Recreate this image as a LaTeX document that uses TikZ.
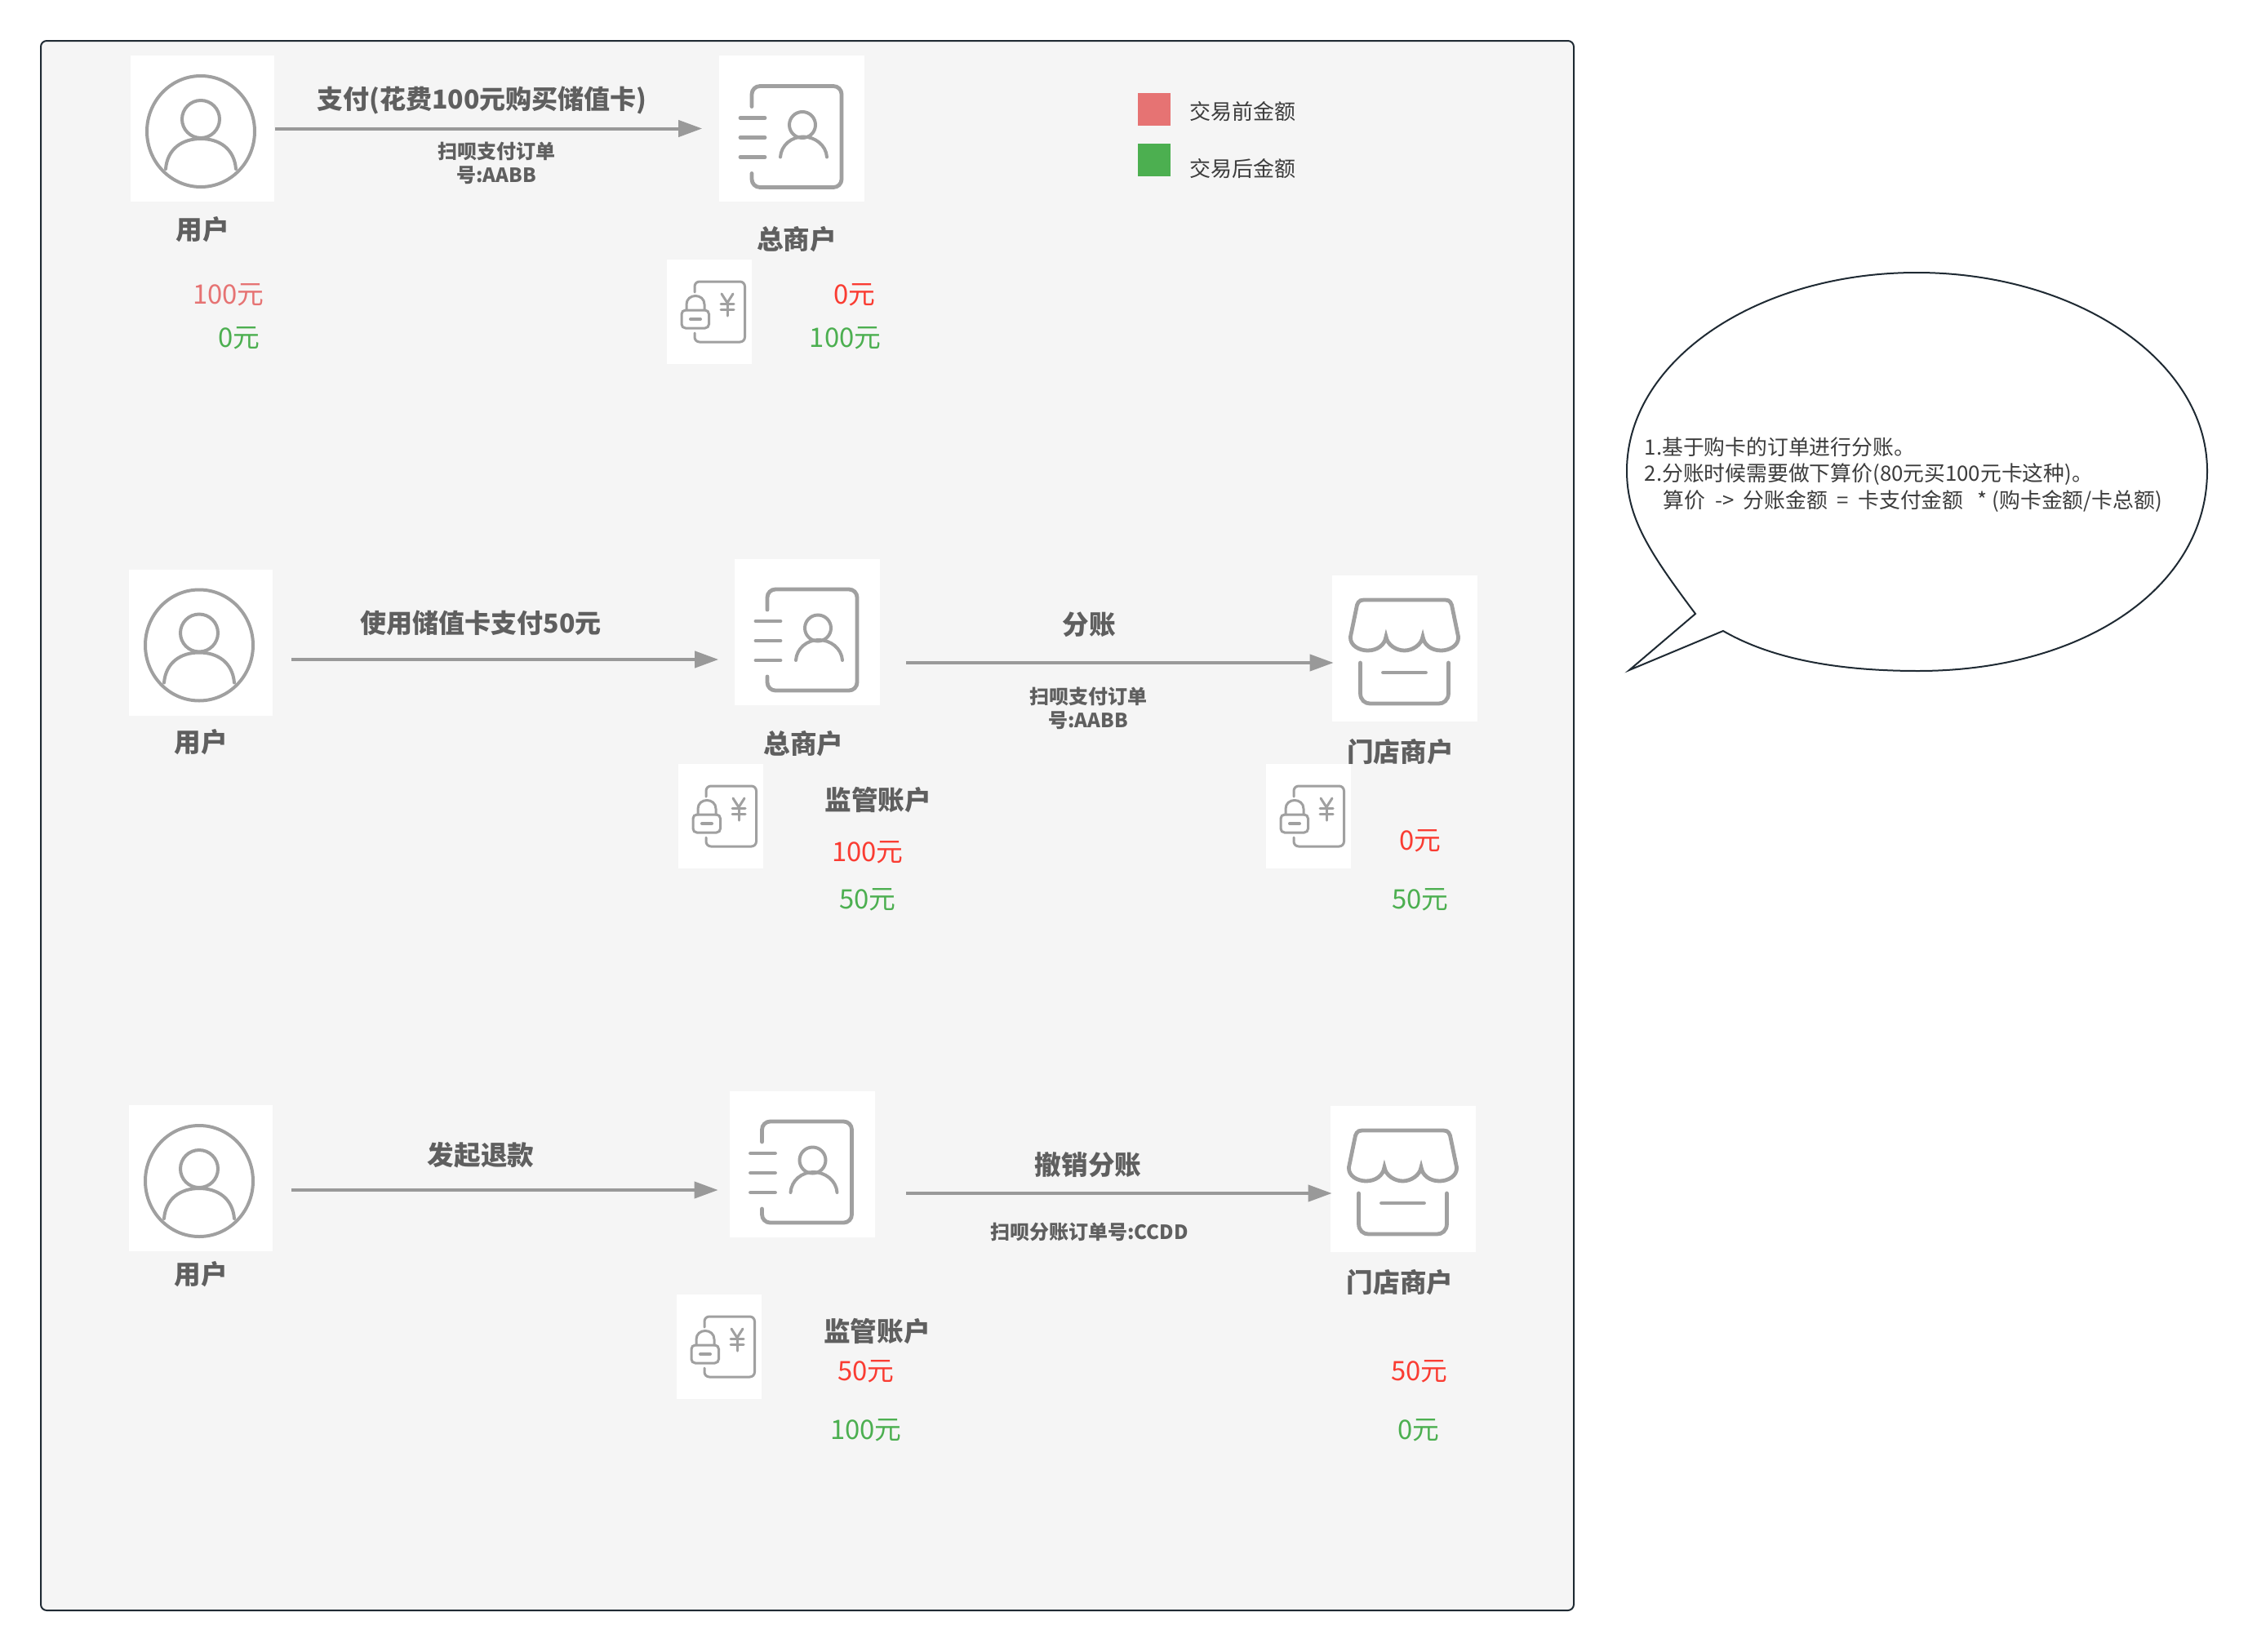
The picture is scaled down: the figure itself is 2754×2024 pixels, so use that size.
\documentclass[tikz,border=0pt]{standalone}
\usepackage{fontspec}
\setmainfont{Noto Sans CJK SC}
\usetikzlibrary{arrows.meta, positioning}

\definecolor{panelbg}{HTML}{F5F5F5}
\definecolor{paneledge}{HTML}{1F2A33}
\definecolor{icongray}{HTML}{A0A0A0}
\definecolor{arrgray}{HTML}{999999}
\definecolor{labelgray}{HTML}{5F5F5F}
\definecolor{notegray}{HTML}{3C3C3C}
\definecolor{beforepink}{HTML}{E67373}
\definecolor{beforered}{HTML}{FA3C32}
\definecolor{aftergreen}{HTML}{4CAF50}

\tikzset{
  iconline/.style={draw=icongray, line width=1.2pt, line cap=round},
  thinicon/.style={draw=icongray, line width=0.75pt, line cap=round},
  usericon/.pic={
    \draw[iconline, line width=1pt] (-2,3.5) circle [x radius=66, y radius=68];
    \draw[iconline, line width=1pt] (-2,-11.5) circle [radius=23];
    \draw[iconline, line width=1pt] (-45,49.5) .. controls (-43,25) and (-25,12.5) .. (-2,12.5)
      .. controls (21,12.5) and (39,25) .. (41,49.5);
  },
  bossicon/.pic={
    \draw[iconline, rounded corners=2.5pt] (-49,-27) |- (61,-52) |- (-49,72) -- (-49,55);
    \draw[iconline] (-63,-13) -- (-33,-13);
    \draw[iconline] (-63,11) -- (-33,11);
    \draw[iconline] (-63,35) -- (-33,35);
    \draw[iconline, line width=1pt] (13,-4.5) circle [radius=16];
    \draw[iconline, line width=1pt] (-14,35) .. controls (-13,20) and (0,10) .. (14,10)
      .. controls (28,10) and (42,20) .. (43,35);
  },
  lockicon/.pic={
    \draw[thinicon, rounded corners=1.5pt] (-18,-24) |- (43.5,-37) |- (-18,37) -- (-18,26);
    \draw[thinicon, rounded corners=1.2pt] (-34,-2) rectangle (-0.5,20);
    \draw[thinicon] (-28,-2) -- (-28,-9) .. controls (-28,-23) and (-6,-23) .. (-6,-9) -- (-6,-2);
    \draw[thinicon, line width=1pt] (-23,9) -- (-11,9);
    \draw[thinicon] (15,-22) -- (22,-11) -- (29,-22);
    \draw[thinicon] (22,-11) -- (22,5);
    \draw[thinicon] (14,-10) -- (30,-10);
    \draw[thinicon] (14,-3) -- (30,-3);
  },
  shopicon/.pic={
    \draw[iconline] (-50,-59) -- (50,-59) .. controls (56,-59) and (58,-55) .. (59,-48) -- (66,-14)
      .. controls (67,-3) and (55,3) .. (45,3) .. controls (33,3) and (24,-4) .. (22.5,-14)
      .. controls (21,-4) and (10,3) .. (0,3) .. controls (-10,3) and (-21,-4) .. (-22.5,-14)
      .. controls (-24,-4) and (-33,3) .. (-45,3) .. controls (-55,3) and (-67,-3) .. (-66,-14)
      -- (-59,-48) .. controls (-58,-55) and (-56,-59) .. (-50,-59) -- cycle;
    \draw[iconline] (-54,18) -- (-54,55) .. controls (-54,64) and (-48,68) .. (-42,68) -- (42,68)
      .. controls (48,68) and (54,64) .. (54,55) -- (54,18);
    \draw[iconline] (-26,30) -- (26,30);
  }
}

\begin{document}
\begin{tikzpicture}[
  x=0.25pt, y=-0.25pt,
  panel/.style={fill=panelbg, draw=paneledge, line width=0.5pt, rounded corners=1.8pt},
  imgbox/.style={fill=white, inner sep=0pt, minimum width=44.5pt, minimum height=44.75pt},
  userbox/.style={imgbox, minimum width=44pt},
  lockbox/.style={fill=white, inner sep=0pt, minimum width=25.9pt, minimum height=32pt},
  title/.style={font=\fontsize{8.15}{8.15}\selectfont\bfseries, text=labelgray, inner sep=0pt, text height=7pt, text depth=1pt},
  paytitle/.style={title, font=\fontsize{8}{8}\selectfont\bfseries},
  small/.style={font=\fontsize{6}{7.25}\selectfont\bfseries, text=labelgray, inner sep=0pt, align=center},
  amount/.style={font=\fontsize{8.2}{8.2}\selectfont, inner sep=0pt, text height=7.2pt, text depth=1pt},
  legendtext/.style={font=\fontsize{6.5}{6.5}\selectfont, text=notegray, inner sep=0pt, text height=5.7pt, text depth=0.8pt},
  swatch/.style={inner sep=0pt, minimum size=10pt},
  arr/.style={-{Triangle[length=7.25pt, width=5pt]}, line width=1pt, draw=arrgray}
  ]
  \useasboundingbox (0,0) rectangle (2754,2024);
  \draw[panel] (50,50) rectangle (1928,1973);

  \node[userbox] (user1) at (248,157.5) {};
  \node[imgbox] (boss1) at (970,157.5) {};
  \node[lockbox] (lock1) at (869,382) {};
  \pic at (user1) {usericon};
  \pic at (boss1) {bossicon};
  \pic at (lock1) {lockicon};
  \node[title, below=4.25pt of user1] (userlabel1) {用户};
  \node[title, below=7.25pt of boss1, xshift=1.5pt] (bosslabel1) {总商户};
  \node[paytitle] (paylabel1) at (590.5,121) {支付(花费100元购买储值卡)};
  \node[small] (order1) at (608,199.5) {扫呗支付订单\\号:AABB};
  \node[amount, text=beforepink] (userbefore1) at (280,360) {100元};
  \node[amount, text=aftergreen] (userafter1) at (292.6,413) {0元};
  \node[amount, text=beforered] (bossbefore1) at (1047,360) {0元};
  \node[amount, text=aftergreen] (bossafter1) at (1035.6,413) {100元};
  \draw[arr, shorten >=5pt] (user1.east) -- (boss1.west);

  \node[swatch, fill=beforepink] (legendbefore) at (1414,134) {};
  \node[swatch, fill=aftergreen] (legendafter) at (1414,196) {};
  \node[legendtext, anchor=west] (legendbeforetext) at (1457,137) {交易前金额};
  \node[legendtext, anchor=west] (legendaftertext) at (1457,207) {交易后金额};

  \node[userbox] (user2) at (246,787) {};
  \node[imgbox] (boss2) at (989,774) {};
  \node[imgbox] (shop2) at (1720.5,794) {};
  \node[lockbox] (lock2) at (883,1000) {};
  \node[lockbox] (lock3) at (1603,1000) {};
  \pic at (user2) {usericon};
  \pic at (boss2) {bossicon};
  \pic at (shop2) {shopicon};
  \pic at (lock2) {lockicon};
  \pic at (lock3) {lockicon};
  \node[title, below=3.75pt of user2] (userlabel2) {用户};
  \node[title, below=7.65pt of boss2, xshift=-1.1pt] (bosslabel2) {总商户};
  \node[title, below=5.1pt of shop2, xshift=-1.25pt] (shoplabel2) {门店商户};
  \node[paytitle] (paylabel2) at (589,763) {使用储值卡支付50元};
  \node[title] (splitlabel2) at (1334.5,765) {分账};
  \node[small] (order2) at (1333,867.5) {扫呗支付订单\\号:AABB};
  \node[title] (escrowlabel2) at (1075.7,980) {监管账户};
  \node[amount, text=beforered] (bossbefore2) at (1063,1043) {100元};
  \node[amount, text=aftergreen] (bossafter2) at (1063,1101) {50元};
  \node[amount, text=beforered] (shopbefore2) at (1740,1029) {0元};
  \node[amount, text=aftergreen] (shopafter2) at (1740,1101) {50元};
  \draw[arr] ([shift={(22,21)}]user2.east) -- ([shift={(-19,34)}]boss2.west);
  \draw[arr] ([shift={(31.5,38)}]boss2.east) -- ([shift={(3,18)}]shop2.west);

  \node[userbox] (user4) at (246,1443.5) {};
  \node[imgbox] (boss4) at (982.5,1426) {};
  \node[imgbox] (shop4) at (1718.5,1444) {};
  \node[lockbox] (lock4) at (881,1650) {};
  \pic at (user4) {usericon};
  \pic at (boss4) {bossicon};
  \pic at (shop4) {shopicon};
  \pic at (lock4) {lockicon};
  \node[title, below=2.75pt of user4] (userlabel4) {用户};
  \node[title, below=5.1pt of shop4, xshift=-0.85pt] (shoplabel4) {门店商户};
  \node[title] (refundlabel4) at (589,1415) {发起退款};
  \node[title] (cancellabel4) at (1333,1427) {撤销分账};
  \node[small] (order4) at (1334.5,1509) {扫呗分账订单号:CCDD};
  \node[title] (escrowlabel4) at (1074.5,1631) {监管账户};
  \node[amount, text=beforered] (bossbefore4) at (1061,1679) {50元};
  \node[amount, text=aftergreen] (bossafter4) at (1061,1751) {100元};
  \node[amount, text=beforered] (shopbefore4) at (1738.6,1679) {50元};
  \node[amount, text=aftergreen] (shopafter4) at (1738,1751) {0元};
  \draw[arr] ([shift={(22,14.5)}]user4.east) -- ([shift={(-13,32)}]boss4.west);
  \draw[arr] ([shift={(38,36)}]boss4.east) -- ([shift={(3,18)}]shop4.west);

  \draw[fill=white, draw=paneledge, line width=0.5pt] (2077,752) .. controls (2020,676) and (1993,634) .. (1993,577)
    .. controls (1993,442) and (2152,334) .. (2348,334)
    .. controls (2544,334) and (2704,442) .. (2704,577)
    .. controls (2704,718) and (2555,822) .. (2350,822)
    .. controls (2250,822) and (2170,807) .. (2111,773)
    -- (1996,821) -- cycle;
  \node[font=\fontsize{6.45}{8.15}\selectfont, text=notegray, inner sep=0pt, align=left, anchor=west] (note) at (2014,581.5)
    {1.基于购卡的订单进行分账。\\2.分账时候需要做下算价(80元买100元卡这种)。\\~~~~算价~~->~~分账金额~~=~~卡支付金额~~~*~(购卡金额/卡总额)};
\end{tikzpicture}
\end{document}
